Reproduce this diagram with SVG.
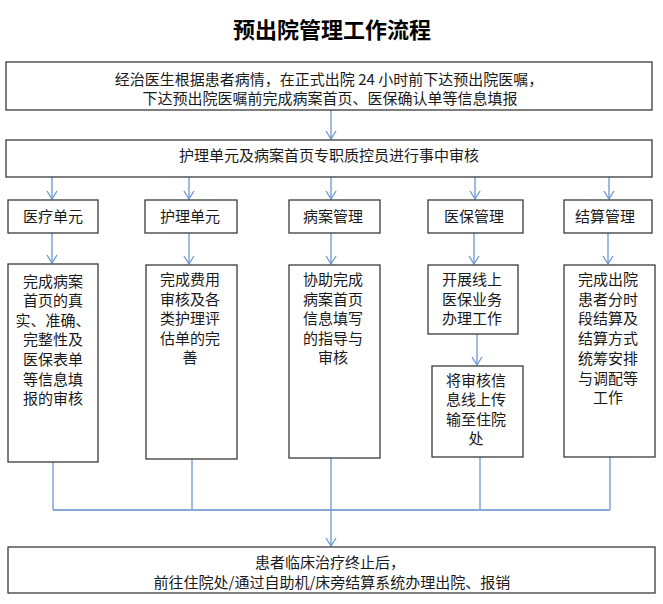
<svg xmlns="http://www.w3.org/2000/svg" width="663" height="604" viewBox="0 0 663 604">
<style>
.box{fill:#fff;stroke:#3a3a3a;stroke-width:1.3}
.t{font-family:"Noto Sans CJK SC","Liberation Sans",sans-serif;font-size:15px;fill:#1a1a1a;text-anchor:middle}
.title{font-family:"Noto Sans CJK SC","Liberation Sans",sans-serif;font-size:22px;font-weight:700;fill:#000;text-anchor:middle}
.c{fill:none;stroke:#6d97cf;stroke-width:1.3}
.h{fill:none;stroke:#86a9d8;stroke-width:2}
</style>
<defs>
<marker id="arr" viewBox="0 0 10 12" refX="9" refY="6" markerWidth="10" markerHeight="12" markerUnits="userSpaceOnUse" orient="auto">
<path d="M1,1 L9,6 L1,11" fill="none" stroke="#6d97cf" stroke-width="1.3"/>
</marker>
</defs>
<rect width="663" height="604" fill="#fff"/>
<text class="title" x="332" y="38">预出院管理工作流程</text>

<g id="connectors">
<line class="c" x1="331" y1="110" x2="331" y2="139" marker-end="url(#arr)"/>
<line class="c" x1="52" y1="177" x2="52" y2="199" marker-end="url(#arr)"/>
<line class="c" x1="189" y1="177" x2="189" y2="199" marker-end="url(#arr)"/>
<line class="c" x1="331" y1="177" x2="331" y2="199" marker-end="url(#arr)"/>
<line class="c" x1="475" y1="177" x2="475" y2="199" marker-end="url(#arr)"/>
<line class="c" x1="609" y1="177" x2="609" y2="199" marker-end="url(#arr)"/>
<line class="c" x1="52" y1="233" x2="52" y2="263" marker-end="url(#arr)"/>
<line class="c" x1="189" y1="233" x2="189" y2="264" marker-end="url(#arr)"/>
<line class="c" x1="331" y1="233" x2="331" y2="264" marker-end="url(#arr)"/>
<line class="c" x1="474" y1="233" x2="474" y2="264" marker-end="url(#arr)"/>
<line class="c" x1="608" y1="233" x2="608" y2="264" marker-end="url(#arr)"/>
<line class="c" x1="477" y1="334" x2="477" y2="365" marker-end="url(#arr)"/>
<line class="c" x1="53" y1="462" x2="53" y2="510"/>
<line class="c" x1="192" y1="459" x2="192" y2="510"/>
<line class="c" x1="480" y1="457" x2="480" y2="510"/>
<line class="c" x1="610" y1="457" x2="610" y2="510"/>
<line class="h" x1="53" y1="510" x2="610" y2="510"/>
<line class="c" x1="331" y1="458" x2="331" y2="546" marker-end="url(#arr)"/>
</g>

<g id="n-start">
<rect class="box" x="6" y="62" width="646" height="48"/>
<text class="t" x="329" y="84.5">经治医生根据患者病情，在正式出院 24 小时前下达预出院医嘱，</text>
<text class="t" x="330" y="103.5">下达预出院医嘱前完成病案首页、医保确认单等信息填报</text>
</g>

<g id="n-review">
<rect class="box" x="6" y="140" width="646" height="37"/>
<text class="t" x="329" y="161">护理单元及病案首页专职质控员进行事中审核</text>
</g>

<g id="n-med">
<rect class="box" x="8" y="200" width="90" height="33"/>
<text class="t" x="53" y="221.5">医疗单元</text>
</g>
<g id="n-nurse">
<rect class="box" x="145" y="200" width="92" height="33"/>
<text class="t" x="190" y="221.5">护理单元</text>
</g>
<g id="n-record">
<rect class="box" x="289" y="200" width="91" height="33"/>
<text class="t" x="333" y="221.5">病案管理</text>
</g>
<g id="n-ins">
<rect class="box" x="428" y="200" width="95" height="33"/>
<text class="t" x="474" y="221.5">医保管理</text>
</g>
<g id="n-settle">
<rect class="box" x="564" y="200" width="88" height="33"/>
<text class="t" x="605" y="221.5">结算管理</text>
</g>

<g id="d-med">
<rect class="box" x="8" y="264" width="90" height="198"/>
<text class="t" x="53" y="286.5">完成病案</text>
<text class="t" x="53" y="306.1">首页的真</text>
<text class="t" x="53" y="325.7">实、准确、</text>
<text class="t" x="53" y="345.3">完整性及</text>
<text class="t" x="53" y="364.9">医保表单</text>
<text class="t" x="53" y="384.5">等信息填</text>
<text class="t" x="53" y="404.1">报的审核</text>
</g>
<g id="d-nurse">
<rect class="box" x="146" y="265" width="91" height="194"/>
<text class="t" x="190" y="285">完成费用</text>
<text class="t" x="190" y="304.6">审核及各</text>
<text class="t" x="190" y="324.2">类护理评</text>
<text class="t" x="190" y="343.8">估单的完</text>
<text class="t" x="190" y="363.4">善</text>
</g>
<g id="d-record">
<rect class="box" x="289" y="265" width="91" height="193"/>
<text class="t" x="333" y="285">协助完成</text>
<text class="t" x="333" y="304.6">病案首页</text>
<text class="t" x="333" y="324.2">信息填写</text>
<text class="t" x="333" y="343.8">的指导与</text>
<text class="t" x="333" y="363.4">审核</text>
</g>
<g id="d-ins1">
<rect class="box" x="428" y="265" width="90" height="69"/>
<text class="t" x="472" y="285">开展线上</text>
<text class="t" x="472" y="304.6">医保业务</text>
<text class="t" x="472" y="324.2">办理工作</text>
</g>
<g id="d-ins2">
<rect class="box" x="432" y="366" width="91" height="91"/>
<text class="t" x="476" y="385.5">将审核信</text>
<text class="t" x="476" y="405.1">息线上传</text>
<text class="t" x="476" y="424.7">输至住院</text>
<text class="t" x="476" y="444.3">处</text>
</g>
<g id="d-settle">
<rect class="box" x="564" y="265" width="91" height="192"/>
<text class="t" x="608" y="285">完成出院</text>
<text class="t" x="608" y="304.7">患者分时</text>
<text class="t" x="608" y="324.4">段结算及</text>
<text class="t" x="608" y="344.1">结算方式</text>
<text class="t" x="608" y="363.8">统筹安排</text>
<text class="t" x="608" y="383.5">与调配等</text>
<text class="t" x="608" y="403.2">工作</text>
</g>

<g id="n-end">
<rect class="box" x="8" y="547" width="647" height="46"/>
<text class="t" x="330" y="567.5">患者临床治疗终止后，</text>
<text class="t" x="332" y="587.5">前往住院处/通过自助机/床旁结算系统办理出院、报销</text>
</g>
</svg>
